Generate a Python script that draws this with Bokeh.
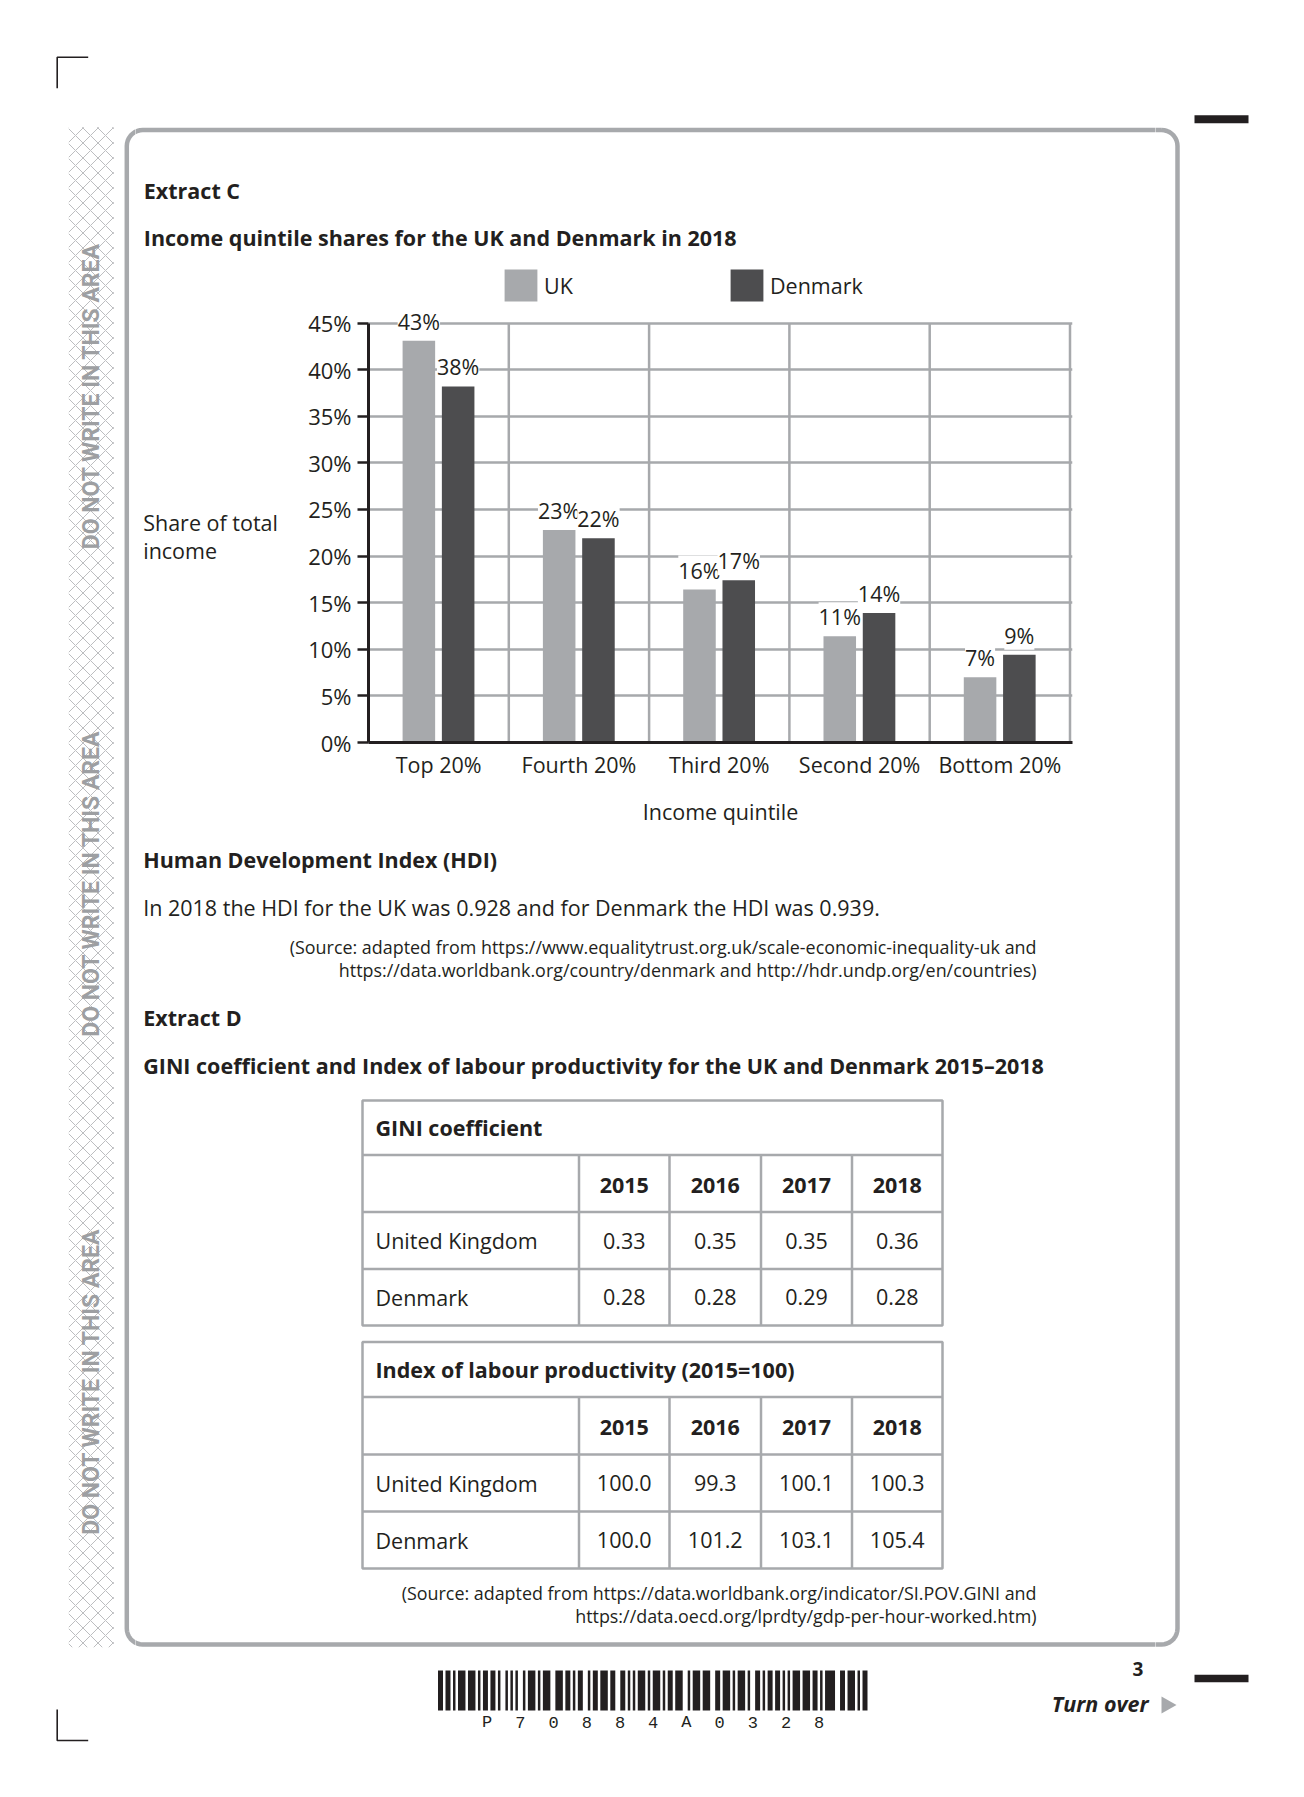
import numpy as np
from bokeh.plotting import figure
from bokeh.layouts import column, row
from bokeh.models import (Range1d, FixedTicker, PrintfTickFormatter, ColumnDataSource,
                          LabelSet, Legend, LegendItem)
from bokeh.core.properties import value
from bokeh.embed import file_html
from bokeh.resources import INLINE

# ---------------- data ----------------
categories = ["Top 20%", "Fourth 20%", "Third 20%", "Second 20%", "Bottom 20%"]
uk_share = [43.1, 22.8, 16.4, 11.4, 7.0]
dk_share = [38.2, 21.9, 17.4, 13.9, 9.4]
y_ticks = [0, 5, 10, 15, 20, 25, 30, 35, 40, 45]

hdi_uk = 0.928
hdi_dk = 0.939

years = ["2015", "2016", "2017", "2018"]
countries = ["United Kingdom", "Denmark"]
gini_uk = [0.33, 0.35, 0.35, 0.36]
gini_dk = [0.28, 0.28, 0.29, 0.28]
prod_uk = [100.0, 99.3, 100.1, 100.3]
prod_dk = [100.0, 101.2, 103.1, 105.4]

barcode_text = "P70884A0328"
barcode_modules = ("1101101011101110101101101" "00" "1010100" "1011101011100"
                   "1110110101100" "1011011101100" "1101010111010" "11101011011100"
                   "10111011100" "1101110101110100" "11010110110" "1010111011"
                   "1011010111100" "11011101011")

# ---------------- style ----------------
FONT = "Open Sans"
INK = "#231f20"
GREY = "#a7a9ac"
DARK = "#4d4d4f"
BODY = "21.5px"
SMALL = "17.9px"

PAGE_W, PAGE_H = 1288, 1781


def txt(p, xs, ys, texts, size=BODY, style="normal", align="left", color=INK,
        font=FONT, baseline="middle", angle=0.0):
    p.text(x=xs, y=ys, text=texts, text_font=value(font), text_font_size=size,
           text_font_style=style, text_align=align, text_baseline=baseline,
           text_color=color, angle=angle)


def rounded_rect(x0, y0, x1, y1, r, n=10):
    xs, ys = [], []
    corners = [(x1 - r, y0 + r, -np.pi / 2), (x1 - r, y1 - r, 0.0),
               (x0 + r, y1 - r, np.pi / 2), (x0 + r, y0 + r, np.pi)]
    for cx, cy, a0 in corners:
        for t in np.linspace(a0, a0 + np.pi / 2, n):
            xs.append(cx + r * np.cos(t))
            ys.append(cy + r * np.sin(t))
    xs.append(xs[0])
    ys.append(ys[0])
    return xs, ys


def decor(p):
    # shapes shared by every part of the page (each figure clips its own share)
    p.quad(left=[68.3], right=[113.3], top=[126.7], bottom=[1646.7], fill_color=None,
           line_color=None, hatch_pattern="x", hatch_color="#bcbdc0", hatch_scale=15,
           hatch_weight=1)
    bx, by = rounded_rect(126.3, 129.5, 1177, 1644, 16)
    p.line(bx, by, line_color=GREY, line_width=4.5, line_join="round")
    p.multi_line(xs=[[56.7, 56.7, 87.7], [56.7, 56.7, 87.7]],
                 ys=[[87.7, 56.7, 56.7], [1709, 1740, 1740]], line_color=INK, line_width=1.6)
    p.quad(left=[1194, 1194], right=[1248, 1248], top=[114.7, 1674.3],
           bottom=[122.7, 1681.7], fill_color=INK, line_color=None)
    p.patch([1161, 1176, 1161], [1696, 1704.5, 1713], fill_color=GREY, line_color=None)


def page_fig(x0, x1, y0, y1, extra_bottom=0):
    p = figure(width=int(round(x1 - x0)), height=int(round(y1 - y0 + extra_bottom)),
               x_range=Range1d(x0, x1), y_range=Range1d(y1, y0),
               x_axis_type=None, y_axis_type=None, output_backend="svg",
               toolbar_location=None, min_border=0, outline_line_color=None)
    p.min_border_bottom = extra_bottom
    p.grid.visible = False
    p.background_fill_color = "white"
    p.border_fill_color = "white"
    decor(p)
    return p


MID_L, MID_R = 135, 1155

# ---------------- left and right margins (full height) ----------------
LEFT = page_fig(0, MID_L, 0, PAGE_H)
txt(LEFT, [90.5, 90.5, 90.5], [395.5, 883, 1381], ["DO NOT WRITE IN THIS AREA"] * 3,
    size="23px", style="bold", align="center", color="#9d9fa2", font="Roboto",
    angle=np.pi / 2)
RIGHT = page_fig(MID_R, PAGE_W, 0, PAGE_H)

# ---------------- strip A (top) ----------------
B_T, B_B = 256, 830
A = page_fig(MID_L, MID_R, 0, B_T)
txt(A, [143.3, 143.3], [189.8, 237.3],
    ["Extract C", "Income quintile shares for the UK and Denmark in 2018"], style="bold")

# ---------------- strip B (chart row) ----------------
CH_X0, CH_X1 = 290, 1100
FRAME_L, FRAME_R = 368, 1072
FRAME_B = 742

# side panels share the chart's frame (top B_T, bottom FRAME_B)
BL = page_fig(MID_L, CH_X0, B_T, FRAME_B, extra_bottom=B_B - FRAME_B)
txt(BL, [142.7, 142.7], [521.5, 549.5], ["Share of total", "income"])
BR = page_fig(CH_X1, MID_R, B_T, FRAME_B, extra_bottom=B_B - FRAME_B)

cat_px = 140.3
y_px = 419.5 / 45.0

n = len(categories)
centers = np.arange(n) + 0.5
p = figure(width=CH_X1 - CH_X0, height=B_B - B_T,
           x_range=Range1d(0, (FRAME_R - FRAME_L) / cat_px),
           y_range=Range1d(0, (FRAME_B - B_T) / y_px),
           output_backend="svg", toolbar_location=None,
           min_border_left=FRAME_L - CH_X0, min_border_right=CH_X1 - FRAME_R,
           min_border_top=0, min_border_bottom=B_B - FRAME_B,
           outline_line_color=None)
p.background_fill_color = "white"
p.border_fill_color = "white"

p.xgrid.visible = False
p.ygrid.ticker = FixedTicker(ticks=y_ticks[1:])
p.ygrid.grid_line_color = GREY
p.ygrid.grid_line_width = 2.5

bounds = np.arange(1, n + 1)
p.segment(x0=bounds, y0=[0] * n, x1=bounds, y1=[y_ticks[-1]] * n,
          line_color=GREY, line_width=2.5)

r_uk = p.vbar(x=centers - 0.141, top=uk_share, width=0.232, fill_color=GREY,
              line_color=None)
r_dk = p.vbar(x=centers + 0.139, top=dk_share, width=0.232, fill_color=DARK,
              line_color=None)

lab_src = ColumnDataSource(dict(
    x=list(centers - 0.141) + list(centers + 0.139),
    y=uk_share + dk_share,
    t=[f"{round(v)}%" for v in uk_share + dk_share]))
p.add_layout(LabelSet(x="x", y="y", text="t", source=lab_src, y_offset=19.5,
                      text_align="center", text_baseline="middle",
                      text_font=value(FONT), text_font_size="21.5px", text_color=INK,
                      background_fill_color="white"))

yax = p.yaxis[0]
yax.ticker = FixedTicker(ticks=y_ticks)
yax.formatter = PrintfTickFormatter(format="%d%%")
yax.bounds = (0, y_ticks[-1])
yax.axis_line_width = 3
yax.axis_line_color = INK
yax.major_tick_line_color = INK
yax.major_tick_line_width = 2.5
yax.major_tick_out = 11
yax.major_tick_in = 0
yax.minor_tick_line_color = None
yax.major_label_standoff = 6
yax.major_label_text_font = FONT
yax.major_label_text_font_size = "22px"
yax.major_label_text_color = INK

xax = p.xaxis[0]
xax.ticker = FixedTicker(ticks=list(centers))
xax.major_label_overrides = {float(c): cat for c, cat in zip(centers, categories)}
xax.axis_line_width = 3
xax.axis_line_color = INK
xax.major_tick_line_color = None
xax.minor_tick_line_color = None
xax.major_tick_out = 0
xax.major_tick_in = 0
xax.major_label_standoff = 7
xax.major_label_text_font = FONT
xax.major_label_text_font_size = BODY
xax.major_label_text_color = INK
xax.axis_label = "Income quintile"
xax.axis_label_standoff = 15
xax.axis_label_text_font = FONT
xax.axis_label_text_font_style = "normal"
xax.axis_label_text_font_size = BODY
xax.axis_label_text_color = INK

# legend: Bokeh insets area glyphs by 10 % on each side
for lab, rend, lx in (("UK", r_uk, 504), ("Denmark", r_dk, 730)):
    lg = Legend(items=[LegendItem(label=lab, renderers=[rend])],
                location=(lx - 4 - FRAME_L, FRAME_B - 305), orientation="horizontal",
                padding=0, margin=0, border_line_color=None, background_fill_alpha=0,
                glyph_width=41, glyph_height=40, label_height=40, label_standoff=3,
                label_text_font=FONT, label_text_font_size=BODY, label_text_color=INK)
    p.add_layout(lg)

# ---------------- strip C (bottom) ----------------
C = page_fig(MID_L, MID_R, B_B, PAGE_H)
txt(C, [142.7], [858.5], ["Human Development Index (HDI)"], style="bold")
txt(C, [142.7], [906.5],
    [f"In 2018 the HDI for the UK was {hdi_uk:.3f} and for Denmark the HDI was {hdi_dk:.3f}."])
txt(C, [1036, 1036], [946.5, 969.5],
    ["(Source: adapted from https://www.equalitytrust.org.uk/scale-economic-inequality-uk and",
     "https://data.worldbank.org/country/denmark and http://hdr.undp.org/en/countries)"],
    size=SMALL, align="right")
txt(C, [142.7, 142.7], [1016.5, 1064.5],
    ["Extract D",
     "GINI coefficient and Index of labour productivity for the UK and Denmark 2015\u20132018"],
    style="bold")

col_edges = [362, 578.5, 669, 760.5, 851.5, 942]


def table(p, rows, title, uk_vals, dk_vals, fmt):
    x0, x1 = col_edges[0], col_edges[-1]
    p.quad(left=[x0], right=[x1], top=[rows[0]], bottom=[rows[-1]], fill_color=None,
           line_color=GREY, line_width=2.5)
    inner = rows[1:-1]
    p.segment(x0=[x0] * len(inner), x1=[x1] * len(inner), y0=inner, y1=inner,
              line_color=GREY, line_width=2.5)
    vx = col_edges[1:-1]
    p.segment(x0=vx, x1=vx, y0=[rows[1]] * len(vx), y1=[rows[-1]] * len(vx),
              line_color=GREY, line_width=2.5)
    mids = [(rows[i] + rows[i + 1]) / 2 for i in range(len(rows) - 1)]
    cc = [(col_edges[i + 1] + col_edges[i + 2]) / 2 for i in range(len(years))]
    txt(p, [375], [mids[0]], [title], style="bold")
    txt(p, cc, [mids[1] + 1.5] * len(years), years, style="bold", align="center")
    txt(p, [375, 375], [mids[2], mids[3]], countries)
    txt(p, cc + cc, [mids[2]] * len(cc) + [mids[3]] * len(cc),
        [fmt.format(v) for v in uk_vals] + [fmt.format(v) for v in dk_vals], align="center")


table(C, [1100, 1154.5, 1211.5, 1268.5, 1325], "GINI coefficient", gini_uk, gini_dk, "{:.2f}")
table(C, [1341.5, 1396.5, 1454, 1511, 1568], "Index of labour productivity (2015=100)",
      prod_uk, prod_dk, "{:.1f}")

txt(C, [1036, 1036], [1592.7, 1615],
    ["(Source: adapted from https://data.worldbank.org/indicator/SI.POV.GINI and",
     "https://data.oecd.org/lprdty/gdp-per-hour-worked.htm)"],
    size=SMALL, align="right")

# barcode
bc_x0, bc_x1 = 437.5, 867.0
mod = (bc_x1 - bc_x0) / len(barcode_modules)
lefts, rights = [], []
i = 0
while i < len(barcode_modules):
    if barcode_modules[i] == "1":
        j = i
        while j < len(barcode_modules) and barcode_modules[j] == "1":
            j += 1
        lefts.append(bc_x0 + i * mod)
        rights.append(bc_x0 + j * mod)
        i = j
    else:
        i += 1
C.quad(left=lefts, right=rights, top=[1670] * len(lefts), bottom=[1710] * len(lefts),
       fill_color=INK, line_color=None)
txt(C, [486.7 + 33.2 * k for k in range(len(barcode_text))], [1722] * len(barcode_text),
    list(barcode_text), size="17px", align="center", font="Liberation Mono")

txt(C, [1137.5], [1668], ["3"], size="19px", style="bold", align="center")
txt(C, [1148], [1703], ["Turn over"], size=BODY, style="bold italic", align="right")

middle = column(A, row(BL, p, BR), C)
layout = row(LEFT, middle, RIGHT)
open("out.html", "w").write(file_html(layout, INLINE))
